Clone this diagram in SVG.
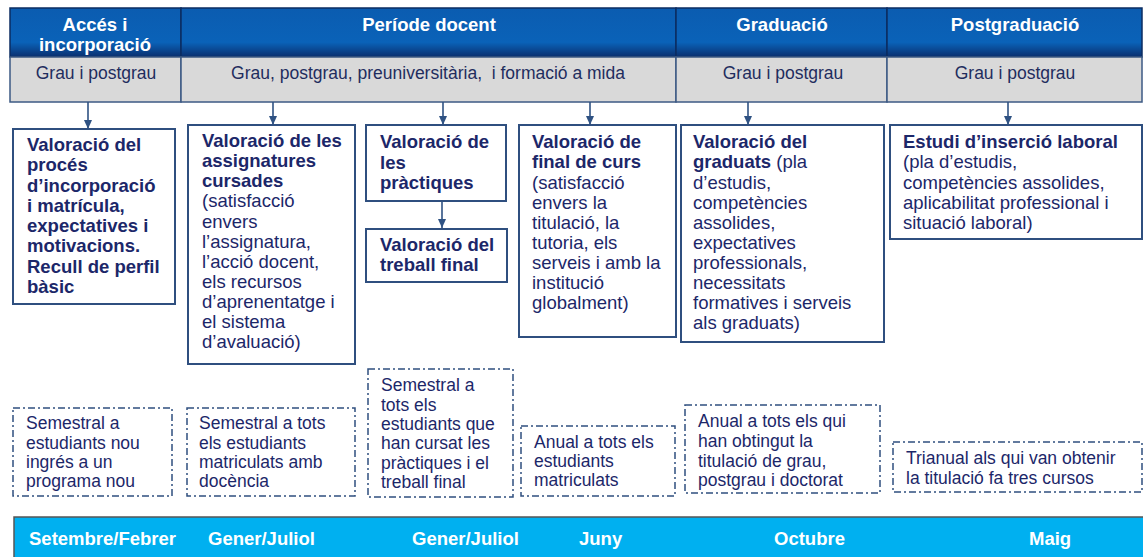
<svg xmlns="http://www.w3.org/2000/svg" width="1143" height="557" viewBox="0 0 1143 557">
<style>
text{font-family:"Liberation Sans",Arial,sans-serif;}
.hd{fill:url(#hg);stroke:#0b2c62;stroke-width:1.5;}
.ht{fill:#ffffff;font-weight:bold;font-size:18.5px;text-anchor:middle;}
.gr{fill:#d9d9d9;stroke:#3d5a84;stroke-width:1.5;}
.gt{fill:#1f2d5e;font-size:17.5px;text-anchor:middle;}
.bx{fill:#ffffff;stroke:#2f4f7f;stroke-width:2;}
.bt{fill:#1c2769;font-size:18.5px;}
.b{font-weight:bold;}
.dx{fill:#ffffff;stroke:#2f4f7f;stroke-width:1.5;stroke-dasharray:7 3 2 3;}
.dt{fill:#1c2769;font-size:17.5px;}
.cn{stroke:#2f5283;stroke-width:1.6;fill:none;marker-end:url(#ah);}
.bb{fill:#00b0f0;stroke:#555555;stroke-width:1.5;}
.bbt{fill:#ffffff;font-weight:bold;font-size:18.5px;}
</style>
<defs>
<linearGradient id="hg" x1="0" y1="0" x2="0" y2="1">
<stop offset="0" stop-color="#0b5cb0"/>
<stop offset="0.7" stop-color="#0a62b8"/>
<stop offset="1" stop-color="#0a2f6e"/>
</linearGradient>
<marker id="ah" markerWidth="9" markerHeight="8" refX="9" refY="4" orient="auto" markerUnits="userSpaceOnUse">
<path d="M0,0 L9,4 L0,8 Z" fill="#2f5283"/>
</marker>
</defs>
<rect width="1143" height="557" fill="#ffffff"/>

<g id="header">
<rect class="hd" x="10" y="8" width="171" height="49"/>
<rect class="hd" x="181" y="8" width="495" height="49"/>
<rect class="hd" x="676" y="8" width="211" height="49"/>
<rect class="hd" x="887" y="8" width="255" height="49"/>
<text class="ht" x="95" y="31">Accés i</text>
<text class="ht" x="95" y="51">incorporació</text>
<text class="ht" x="429" y="31">Període docent</text>
<text class="ht" x="782" y="31">Graduació</text>
<text class="ht" x="1015" y="31">Postgraduació</text>
</g>

<g id="scope">
<rect class="gr" x="10" y="57" width="171" height="45"/>
<rect class="gr" x="181" y="57" width="495" height="45"/>
<rect class="gr" x="676" y="57" width="211" height="45"/>
<rect class="gr" x="887" y="57" width="255" height="45"/>
<text class="gt" x="96" y="79">Grau i postgrau</text>
<text class="gt" x="428" y="79" xml:space="preserve">Grau, postgrau, preuniversitària,  i formació a mida</text>
<text class="gt" x="783" y="79">Grau i postgrau</text>
<text class="gt" x="1015" y="79">Grau i postgrau</text>
</g>

<g id="connectors">
<line class="cn" x1="88" y1="102" x2="88" y2="129"/>
<line class="cn" x1="273" y1="102" x2="273" y2="125"/>
<line class="cn" x1="443" y1="102" x2="443" y2="125"/>
<line class="cn" x1="590" y1="102" x2="590" y2="125"/>
<line class="cn" x1="748" y1="102" x2="748" y2="125"/>
<line class="cn" x1="1008" y1="102" x2="1008" y2="125"/>
<line class="cn" x1="442" y1="202" x2="442" y2="228"/>
</g>

<g id="box-acces">
<rect class="bx" x="13" y="129" width="162" height="175"/>
<text class="bt b" x="27"><tspan x="27" y="151">Valoració del</tspan><tspan x="27" y="171">procés</tspan><tspan x="27" y="192">d’incorporació</tspan><tspan x="27" y="212">i matrícula,</tspan><tspan x="27" y="232">expectatives i</tspan><tspan x="27" y="252">motivacions.</tspan><tspan x="27" y="273">Recull de perfil</tspan><tspan x="27" y="293">bàsic</tspan></text>
</g>

<g id="box-assignatures">
<rect class="bx" x="188" y="125" width="167" height="239"/>
<text class="bt" x="202"><tspan class="b" x="202" y="147">Valoració de les</tspan><tspan class="b" x="202" y="167">assignatures</tspan><tspan class="b" x="202" y="187">cursades</tspan><tspan x="202" y="207">(satisfacció</tspan><tspan x="202" y="228">envers</tspan><tspan x="202" y="248">l’assignatura,</tspan><tspan x="202" y="268">l’acció docent,</tspan><tspan x="202" y="288">els recursos</tspan><tspan x="202" y="308">d’aprenentatge i</tspan><tspan x="202" y="328">el sistema</tspan><tspan x="202" y="348">d’avaluació)</tspan></text>
</g>

<g id="box-practiques">
<rect class="bx" x="366" y="125" width="140" height="76"/>
<text class="bt b"><tspan x="380" y="148">Valoració de</tspan><tspan x="380" y="169">les</tspan><tspan x="380" y="189">pràctiques</tspan></text>
</g>

<g id="box-treball">
<rect class="bx" x="366" y="229" width="141" height="53"/>
<text class="bt b"><tspan x="380" y="251">Valoració del</tspan><tspan x="380" y="271">treball final</tspan></text>
</g>

<g id="box-final-curs">
<rect class="bx" x="519" y="125" width="157" height="212"/>
<text class="bt"><tspan class="b" x="532" y="148">Valoració de</tspan><tspan class="b" x="532" y="168">final de curs</tspan><tspan x="532" y="189">(satisfacció</tspan><tspan x="532" y="209">envers la</tspan><tspan x="532" y="229">titulació, la</tspan><tspan x="532" y="249">tutoria, els</tspan><tspan x="532" y="269">serveis i amb la</tspan><tspan x="532" y="289">institució</tspan><tspan x="532" y="309">globalment)</tspan></text>
</g>

<g id="box-graduats">
<rect class="bx" x="681" y="125" width="203" height="217"/>
<text class="bt"><tspan class="b" x="693" y="148">Valoració del</tspan><tspan x="693" y="168"><tspan class="b">graduats</tspan> (pla</tspan><tspan x="693" y="189">d’estudis,</tspan><tspan x="693" y="209">competències</tspan><tspan x="693" y="229">assolides,</tspan><tspan x="693" y="249">expectatives</tspan><tspan x="693" y="269">professionals,</tspan><tspan x="693" y="289">necessitats</tspan><tspan x="693" y="309">formatives i serveis</tspan><tspan x="693" y="329">als graduats)</tspan></text>
</g>

<g id="box-insercio">
<rect class="bx" x="890" y="125" width="252" height="114"/>
<text class="bt"><tspan class="b" x="903" y="148">Estudi d’inserció laboral</tspan><tspan x="903" y="168">(pla d’estudis,</tspan><tspan x="903" y="189">competències assolides,</tspan><tspan x="903" y="209">aplicabilitat professional i</tspan><tspan x="903" y="229">situació laboral)</tspan></text>
</g>

<g id="freq-acces">
<rect class="dx" x="13" y="408" width="159" height="88"/>
<text class="dt"><tspan x="26" y="429">Semestral a</tspan><tspan x="26" y="449">estudiants nou</tspan><tspan x="26" y="468">ingrés a un</tspan><tspan x="26" y="487">programa nou</tspan></text>
</g>

<g id="freq-assignatures">
<rect class="dx" x="187" y="408" width="168" height="88"/>
<text class="dt"><tspan x="199" y="429">Semestral a tots</tspan><tspan x="199" y="449">els estudiants</tspan><tspan x="199" y="468">matriculats amb</tspan><tspan x="199" y="487">docència</tspan></text>
</g>

<g id="freq-practiques">
<rect class="dx" x="368" y="369" width="145" height="128"/>
<text class="dt"><tspan x="381" y="391">Semestral a</tspan><tspan x="381" y="411">tots els</tspan><tspan x="381" y="430">estudiants que</tspan><tspan x="381" y="449">han cursat les</tspan><tspan x="381" y="469">pràctiques i el</tspan><tspan x="381" y="488">treball final</tspan></text>
</g>

<g id="freq-final-curs">
<rect class="dx" x="521" y="426" width="154" height="70"/>
<text class="dt"><tspan x="534" y="448">Anual a tots els</tspan><tspan x="534" y="467">estudiants</tspan><tspan x="534" y="486">matriculats</tspan></text>
</g>

<g id="freq-graduats">
<rect class="dx" x="685" y="405" width="195" height="88"/>
<text class="dt"><tspan x="698" y="427">Anual a tots els qui</tspan><tspan x="698" y="447">han obtingut la</tspan><tspan x="698" y="467">titulació de grau,</tspan><tspan x="698" y="486">postgrau i doctorat</tspan></text>
</g>

<g id="freq-insercio">
<rect class="dx" x="893" y="442" width="249" height="50"/>
<text class="dt"><tspan x="906" y="464">Trianual als qui van obtenir</tspan><tspan x="906" y="484">la titulació fa tres cursos</tspan></text>
</g>

<g id="timeline">
<rect class="bb" x="14" y="517" width="1135" height="50"/>
<text class="bbt" x="29" y="545">Setembre/Febrer</text>
<text class="bbt" x="208" y="545">Gener/Juliol</text>
<text class="bbt" x="412" y="545">Gener/Juliol</text>
<text class="bbt" x="579" y="545">Juny</text>
<text class="bbt" x="774" y="545">Octubre</text>
<text class="bbt" x="1029" y="545">Maig</text>
</g>
</svg>
